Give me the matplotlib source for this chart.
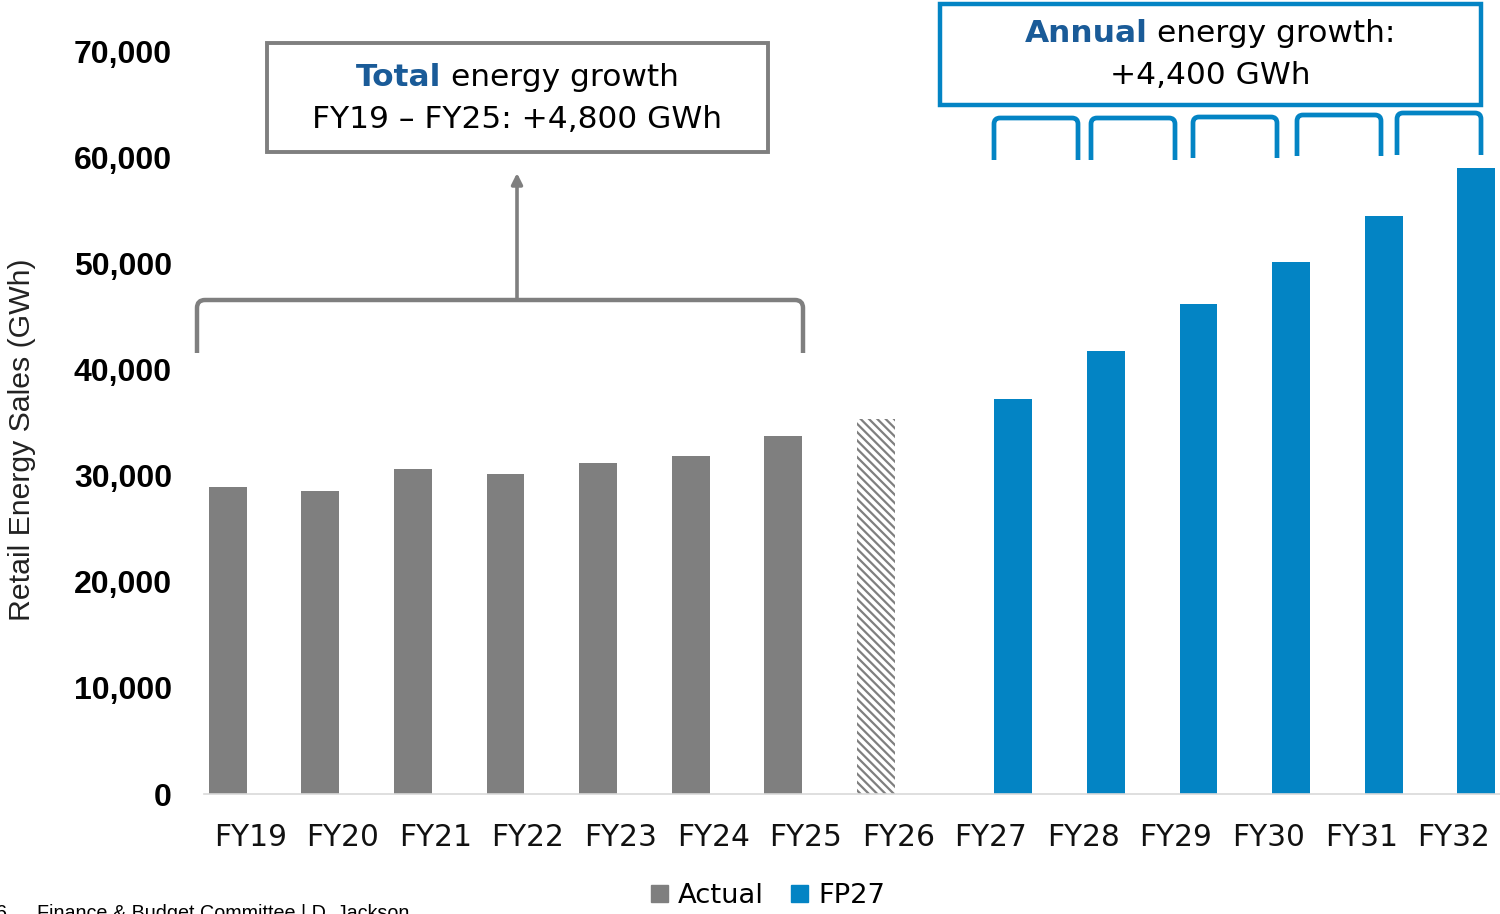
import matplotlib
matplotlib.use('Agg')
import matplotlib.pyplot as plt
import numpy as np
from matplotlib.path import Path
from matplotlib.patches import PathPatch, Rectangle, Patch

# ---------------- data ----------------
categories = ['FY19', 'FY20', 'FY21', 'FY22', 'FY23', 'FY24', 'FY25',
              'FY26', 'FY27', 'FY28', 'FY29', 'FY30', 'FY31', 'FY32']
actual_years = ['FY19', 'FY20', 'FY21', 'FY22', 'FY23', 'FY24', 'FY25', 'FY26']
actual_values = [29000, 28600, 30700, 30200, 31250, 31900, 33800, 35400]
actual_estimated = [False, False, False, False, False, False, False, True]
fp27_years = ['FY27', 'FY28', 'FY29', 'FY30', 'FY31', 'FY32']
fp27_values = [37300, 41800, 46200, 50200, 54500, 59100]
y_ticks = [0, 10000, 20000, 30000, 40000, 50000, 60000, 70000]
legend_labels = ['Actual', 'FP27']
y_label = 'Retail Energy Sales (GWh)'

GRAY = '#7f7f7f'
BLUE = '#0384c4'
DARKBLUE = '#1a5b98'
CAT_FONT = 'DejaVu Sans'

plt.rcParams['hatch.linewidth'] = 1.6

W, H = 1500, 914
fig = plt.figure(figsize=(15, 9.14), dpi=100)
ax = fig.add_axes([204 / W, 1 - 794 / H, 1296 / W, (794 - 52) / H])

idx = {c: i for i, c in enumerate(categories)}
off, bw = 0.243, 0.41
for yr, v, est in zip(actual_years, actual_values, actual_estimated):
    if est:
        ax.bar(idx[yr] - off, v, bw, facecolor='white', edgecolor=GRAY,
               hatch='\\\\\\\\', linewidth=0)
    else:
        ax.bar(idx[yr] - off, v, bw, color=GRAY, linewidth=0)
ax.bar([idx[y] + off for y in fp27_years], fp27_values, bw, color=BLUE, linewidth=0)

ax.set_xlim(-0.5, len(categories) - 0.5)
ax.set_ylim(0, 70000)
ax.set_yticks(y_ticks)
ax.set_yticklabels([f'{t:,}' for t in y_ticks], fontfamily='Liberation Sans',
                   fontweight='bold', fontsize=23)
ax.set_xticks(range(len(categories)))
ax.set_xticklabels(categories, fontfamily=CAT_FONT, fontsize=21.3, color='#111111')
ax.tick_params(axis='y', length=0, pad=23)
ax.tick_params(axis='x', length=0, pad=21)
for s in ['left', 'right', 'top']:
    ax.spines[s].set_visible(False)
ax.spines['bottom'].set_color('#d9d9d9')
ax.spines['bottom'].set_linewidth(1.2)

fig.text(22 / W, 1 - 440 / H, y_label, rotation=90, ha='center', va='center',
         fontfamily='Liberation Sans', fontsize=21.8, color='#222222')

# legend
handles = [Patch(color=GRAY), Patch(color=BLUE)]
fig.legend(handles, legend_labels, loc='center', bbox_to_anchor=(768 / W, 1 - 896 / H),
           ncol=2, frameon=False, handlelength=0.62, handleheight=0.62,
           handletextpad=0.36, columnspacing=1.0,
           prop={'family': CAT_FONT, 'size': 19.7})

# footer (cut off at the bottom of the slide)
fig.text(-4 / W, 1 - 904 / H, '6', ha='left', va='top', fontfamily='Liberation Sans',
         fontsize=14.2, color='black')
fig.text(37 / W, 1 - 904 / H, 'Finance & Budget Committee | D. Jackson', ha='left',
         va='top', fontfamily='Liberation Sans', fontsize=14.2, color='black')

# ---------------- overlay annotations (pixel space) ----------------
ov = fig.add_axes([0, 0, 1, 1], zorder=5)
ov.set_xlim(0, W)
ov.set_ylim(H, 0)
ov.axis('off')
ov.patch.set_alpha(0)


def bracket(x0, x1, ytop, ybot, color, lw, r=8):
    verts = [(x0, ybot), (x0, ytop + r), (x0, ytop), (x0 + r, ytop),
             (x1 - r, ytop), (x1, ytop), (x1, ytop + r), (x1, ybot)]
    codes = [Path.MOVETO, Path.LINETO, Path.CURVE3, Path.CURVE3,
             Path.LINETO, Path.CURVE3, Path.CURVE3, Path.LINETO]
    ov.add_patch(PathPatch(Path(verts, codes), facecolor='none', edgecolor=color,
                           lw=lw, capstyle='butt', joinstyle='round'))


renderer = fig.canvas.get_renderer()


def rich_line(xc, y, parts, size, gap=10):
    texts, widths = [], []
    for s, weight, color in parts:
        t = ov.text(0, y, s, fontsize=size, fontweight=weight, color=color,
                    fontfamily=CAT_FONT, ha='left', va='center')
        widths.append(t.get_window_extent(renderer).width)
        texts.append(t)
    total = sum(widths) + gap * (len(parts) - 1)
    x = xc - total / 2
    for t, w in zip(texts, widths):
        t.set_x(x)
        x += w + gap


ASIZE = 22.5
# gray box
ov.add_patch(Rectangle((267, 43), 501, 109, facecolor='white', edgecolor=GRAY, lw=2.8))
rich_line(517, 77, [('Total', 'bold', DARKBLUE), ('energy growth', 'normal', 'black')], ASIZE)
rich_line(517, 120, [('FY19 – FY25: +4,800 GWh', 'normal', 'black')], ASIZE)

# gray bracket + arrow
bracket(197, 803, 300, 353, GRAY, 3.2)
ov.annotate('', xy=(517, 173), xytext=(517, 300),
            arrowprops=dict(arrowstyle='-|>', color=GRAY, lw=2.6,
                            mutation_scale=16, shrinkA=0, shrinkB=0))

# blue box
ov.add_patch(Rectangle((940, 4), 541, 101, facecolor='white', edgecolor=BLUE, lw=3.2))
rich_line(1210, 33, [('Annual', 'bold', DARKBLUE), ('energy growth:', 'normal', 'black')], ASIZE)
rich_line(1210, 75, [('+4,400 GWh', 'normal', 'black')], ASIZE)

# blue brackets
for x0, x1, yt, yb in [(994, 1078, 118, 160), (1091, 1175, 118, 160),
                       (1193, 1277, 117, 158), (1297, 1381, 115, 156),
                       (1397, 1481, 113, 155)]:
    bracket(x0, x1, yt, yb, BLUE, 3.4, r=6)

fig.savefig('out.png', dpi=100, facecolor='white')
